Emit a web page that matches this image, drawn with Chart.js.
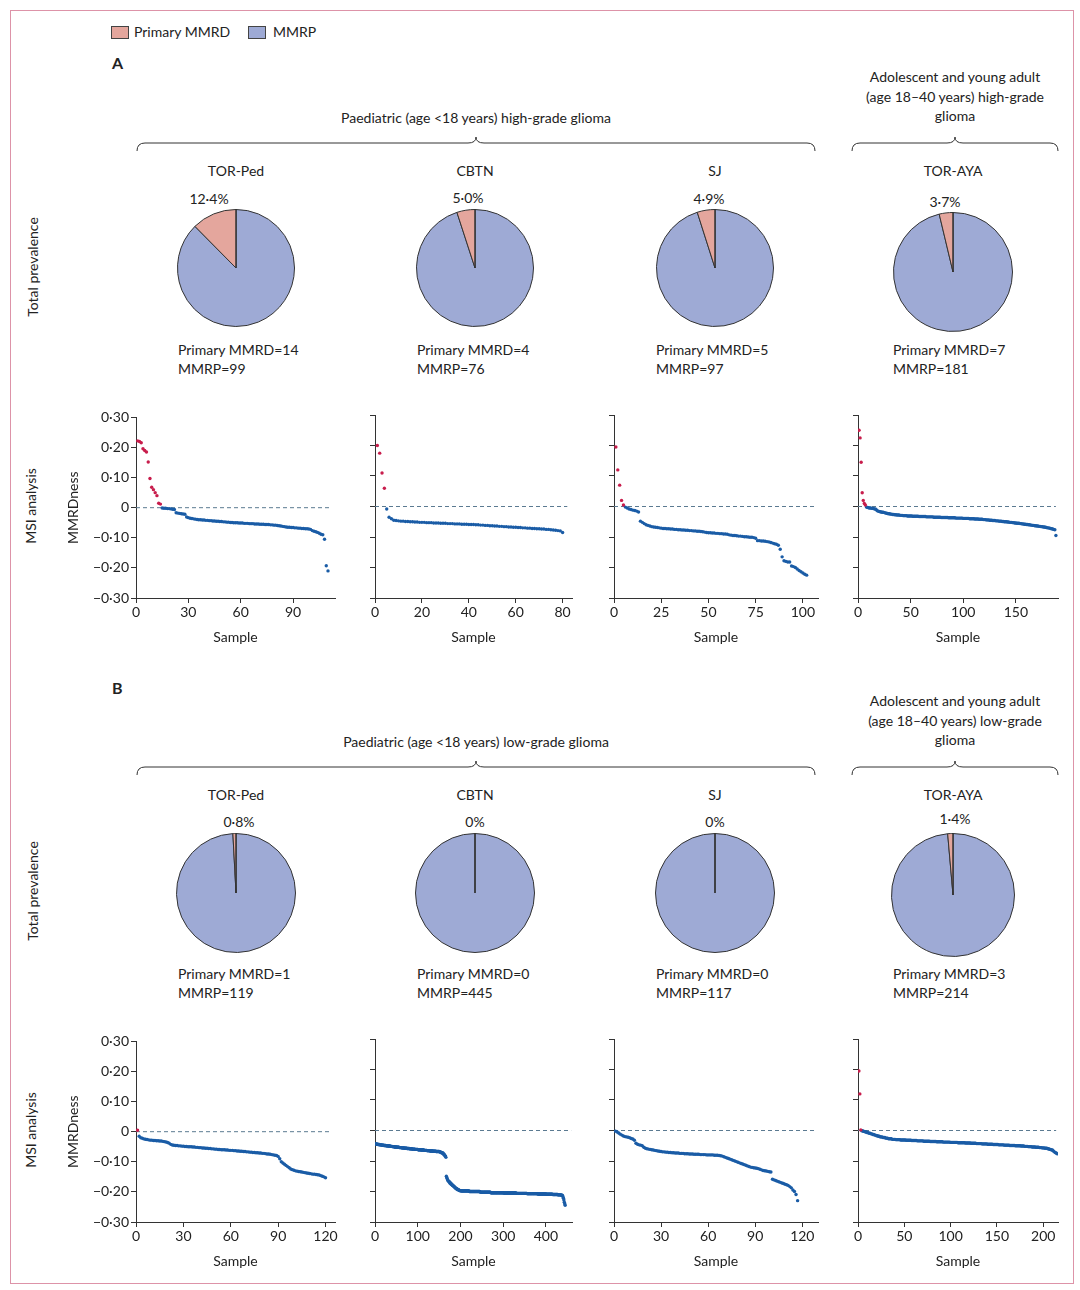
<!DOCTYPE html>
<html><head><meta charset="utf-8">
<script src="https://cdn.jsdelivr.net/npm/chart.js@4"></script>
<style>
body{margin:0;width:1080px;height:1290px;position:relative;background:#fff;font-family:Lato,"Open Sans",sans-serif;color:#222;overflow:hidden}
.t{position:absolute;font-size:14px;white-space:nowrap;line-height:1}
.c{transform:translateX(-50%);text-align:center}
.r{transform:translate(-50%,-50%) rotate(-90deg)}
canvas{position:absolute}
</style></head><body>
<script>
// ---------- DATA ----------
const pieNames = ["TOR-Ped","CBTN","SJ","TOR-AYA"];
const pieMMRD_A = [14,4,5,7];
const pieMMRP_A = [99,76,97,181];
const pieLabel_A = ["12·4%","5·0%","4·9%","3·7%"];
const pieMMRD_B = [1,0,0,3];
const pieMMRP_B = [119,445,117,214];
const pieLabel_B = ["0·8%","0%","0%","1·4%"];
const yTicks = [0.30,0.20,0.10,0,-0.10,-0.20,-0.30];
// MMRDness values in thousandths
const A_TORPed_red = [222,220,216,196,190,185,152,97,68,60,50,40,15,12];
const A_TORPed_blue = [-1,-2,-2,-3,-3,-4,-5,-6,-17,-18,-19,-20,-21,-22,-31,-33,-35,-36,-37,-38,
-39,-40,-40,-41,-41,-42,-42,-43,-43,-44,-44,-45,-45,-46,-46,-47,-47,-48,-48,-49,-49,-50,-50,-50,-51,-51,
-51,-52,-52,-52,-53,-53,-53,-54,-54,-54,-55,-55,-55,-56,-56,-56,-57,-57,-58,-58,
-59,-60,-61,-62,-63,-64,-65,-65,-66,-66,-67,-67,-68,-68,-69,-69,-70,-70,-71,-72,
-76,-78,-80,-82,-85,-88,-90,-105,-193,-210];
const A_CBTN_red = [200,175,110,60];
const A_CBTN_blue = [-8,-35,-40,-45,-46,-47,-48,-48,-49,-49,-50,-50,-51,-51,-52,-52,-52,-53,-53,-53,
-54,-54,-54,-55,-55,-55,-56,-56,-56,-57,-57,-57,-58,-58,-58,-59,-59,-59,-60,-60,
-61,-61,-62,-62,-63,-63,-64,-64,-65,-65,-66,-66,-67,-67,-68,-68,-69,-69,-70,-70,
-71,-71,-72,-72,-73,-73,-74,-74,-75,-75,-76,-77,-78,-79,-80,-85];
const A_SJ_red = [195,120,70,20,5];
const A_SJ_blue = [-2,-5,-8,-10,-12,-13,-15,-18,-48,-52,-56,-60,-62,-64,
-66,-67,-68,-69,-70,-71,-72,-72,-73,-73,-74,
-74,-75,-75,-76,-76,-77,-77,-78,-78,-79,-79,-80,-80,-81,-81,-82,-83,-84,-85,-86,
-86,-87,-87,-88,-88,-89,-89,-90,-90,-91,
-93,-94,-95,-95,-96,-97,-97,-98,-99,-99,-100,-101,-101,-102,-104,
-112,-112,-113,-113,-114,-115,-116,-118,-120,-122,-124,-127,
-140,-165,-178,-180,-182,-182,-195,-197,-200,-205,-210,-214,-218,-222,-225];
const A_AYA_red = [250,225,145,45,20,10,5];
const A_AYA_blue = [-2,-3,-4,-5,-5,-6,-6,-7,-8,-9,-13,-15,-16,-17,-18,-19,-19,-20,-21,-22,
-23,-24,-24,-25,-25,-26,-26,-27,-27,-28,-28,-28,-29,-29,-29,-30,-30,-30,-30,-31,
-31,-31,-31,-31,-32,-32,-32,-32,-32,-32,-33,-33,-33,-33,-33,-33,-33,-34,-34,-34,
-34,-34,-34,-34,-35,-35,-35,-35,-35,-35,-35,-36,-36,-36,-36,-36,-36,-36,-37,-37,
-37,-37,-37,-37,-37,-38,-38,-38,-38,-38,-38,-38,-39,-39,-39,-39,-39,-39,-40,-40,
-40,-40,-40,-41,-41,-41,-41,-42,-42,-42,-42,-43,-43,-43,-44,-44,-44,-45,-45,-45,
-46,-46,-46,-47,-47,-47,-48,-48,-48,-49,-49,-50,-50,-50,-51,-51,-52,-52,-52,-53,
-53,-54,-54,-55,-55,-55,-56,-56,-57,-57,-58,-58,-59,-59,-60,-60,-61,-61,-62,-62,
-63,-63,-64,-64,-65,-65,-66,-66,-67,-67,-68,-69,-70,-70,-71,-72,-73,-74,-75,-76,-95];
const B_TORPed_red = [5];
const B_TORPed_blue = [-15,-20,-22,-24,-25,-26,-27,-28,-28,-29,-29,-30,-30,-31,-31,-32,-33,-34,-36,-38,
-42,-44,-45,-46,-46,-47,-47,-48,-48,-49,-49,-50,-50,-50,-51,-51,-52,-52,-53,-53,
-54,-54,-55,-55,-56,-56,-57,-57,-58,-58,-59,-59,-60,-60,-60,-61,-61,-62,-62,-62,
-63,-63,-64,-64,-65,-65,-66,-66,-67,-67,-68,-68,-69,-69,-70,-70,-71,-71,-72,-72,
-73,-74,-74,-75,-76,-77,-78,-79,-82,-90,-100,-104,-108,-112,-116,-120,-124,-126,-128,-130,
-131,-132,-133,-134,-135,-136,-137,-138,-139,-140,-141,-141,-142,-143,-144,-146,-148,-150,-153];
const B_CBTN_red = [];
// [value, count] runs
const B_CBTN_blue_runs = [[-43,1],[-44,2],[-45,3],[-46,4],[-47,5],[-48,5],[-49,5],[-50,5],[-51,5],[-52,5],[-53,5],[-54,5],
[-55,6],[-56,6],[-57,6],[-58,6],[-59,6],[-60,6],[-61,7],[-62,7],[-63,7],[-64,7],[-65,7],[-66,7],[-67,7],[-68,7],[-69,8],
[-70,3],[-72,3],[-74,3],[-77,2],[-80,2],[-84,2],[-88,1],
[-150,1],[-155,1],[-158,1],[-162,1],[-165,2],[-168,2],[-172,3],[-176,3],[-180,3],[-184,3],[-188,3],[-191,3],[-194,4],[-197,4],
[-198,20],[-200,25],[-202,25],[-204,30],[-205,30],[-206,25],[-207,25],[-208,20],
[-209,15],[-210,12],[-211,8],[-212,3],[-214,1],[-218,1],[-222,1],[-228,1],[-235,1],[-240,1],[-245,1]];
const B_SJ_red = [];
const B_SJ_blue = [-2,-5,-8,-12,-15,-18,-20,-21,-22,-24,-26,-28,-32,-42,-45,-47,-48,-50,-55,-58,
-60,-61,-62,-63,-64,-65,-66,-67,-68,-69,-70,-70,-71,-71,-72,-72,-73,-73,-74,-74,
-74,-75,-75,-75,-76,-76,-76,-77,-77,-77,-78,-78,-78,-78,-79,-79,-79,-79,-80,-80,
-80,-80,-80,-81,-81,-81,-82,-83,-84,-86,-88,-90,-92,-94,-96,-98,-100,-102,-104,-106,
-108,-110,-112,-114,-116,-118,-120,-121,-122,-123,-124,-125,-127,-129,-131,-132,-133,-134,-135,-136,
-160,-162,-164,-166,-168,-170,-172,-174,-176,-178,-180,-184,-188,-195,-200,-210,-230];
const B_AYA_red = [195,120,2];
const B_AYA_blue_runs = [[-1,2],[-3,2],[-5,2],[-7,2],[-9,2],[-11,2],[-13,2],[-15,2],[-17,2],[-19,2],
[-21,3],[-23,3],[-25,3],[-27,4],[-29,4],[-30,5],
[-31,6],[-32,6],[-33,6],[-34,7],[-35,7],[-36,7],[-37,7],[-38,8],[-39,8],[-40,8],
[-41,6],[-42,6],[-43,6],[-44,6],[-45,6],[-46,6],[-47,6],[-48,6],[-49,6],[-50,6],
[-51,4],[-52,4],[-53,4],[-54,4],[-55,4],[-56,3],[-57,3],[-58,3],[-60,2],[-62,2],[-64,2],[-67,1],[-70,1],[-72,1],[-74,1],[-76,1]];
const xMax = [114,84,108,190,126,461,130,216];
const xStep = [30,20,25,50,30,100,30,50];
// ---------- LAYOUT ----------
const expand = r => r.flatMap(([v,c]) => Array(c).fill(v));
const panels = [
 [A_TORPed_red,A_TORPed_blue],[A_CBTN_red,A_CBTN_blue],[A_SJ_red,A_SJ_blue],[A_AYA_red,A_AYA_blue],
 [B_TORPed_red,B_TORPed_blue],[B_CBTN_red,expand(B_CBTN_blue_runs)],[B_SJ_red,B_SJ_blue],[B_AYA_red,expand(B_AYA_blue_runs)]];
const colMMRD='#e4a69d', colMMRP='#9eaad5';
const body=document.body;
function txt(s,x,y,cls,extra){const d=document.createElement('div');d.className='t '+(cls||'');d.style.left=x+'px';d.style.top=y+'px';d.innerHTML=s;if(extra)Object.assign(d.style,extra);body.appendChild(d);return d;}
function cv(x,y,w,h){const c=document.createElement('canvas');c.style.left=x+'px';c.style.top=y+'px';c.style.width=w+'px';c.style.height=h+'px';c.width=w;c.height=h;body.appendChild(c);return c;}
Chart.defaults.font.family='Lato, "Open Sans", sans-serif';
Chart.defaults.color='#222';
Chart.defaults.animation=false;

const svgNS='http://www.w3.org/2000/svg';
const svg=document.createElementNS(svgNS,'svg');svg.setAttribute('width',1080);svg.setAttribute('height',1290);svg.style.position='absolute';svg.style.left=0;svg.style.top=0;
function brace(x1,x2,xm,y){const p=document.createElementNS(svgNS,'path');
 p.setAttribute('d',`M${x1},${y+8} Q${x1},${y} ${x1+8},${y} L${xm-8},${y} Q${xm},${y} ${xm},${y-6} Q${xm},${y} ${xm+8},${y} L${x2-8},${y} Q${x2},${y} ${x2},${y+8}`);
 p.setAttribute('fill','none');p.setAttribute('stroke','#333');p.setAttribute('stroke-width','1');svg.appendChild(p);}
const rect=document.createElementNS(svgNS,'rect');rect.setAttribute('x',10.5);rect.setAttribute('y',10.5);rect.setAttribute('width',1063);rect.setAttribute('height',1273);rect.setAttribute('fill','none');rect.setAttribute('stroke','#dd93a8');svg.appendChild(rect);
brace(137,815,476,143);brace(852,1058,955,143);brace(137,815,476,767);brace(852,1058,955,767);
body.appendChild(svg);

const sw=(x,c)=>{const d=document.createElement('div');Object.assign(d.style,{position:'absolute',left:x+'px',top:'26px',width:'16px',height:'11px',background:c,border:'1px solid #444'});body.appendChild(d);};
sw(111,colMMRD);txt('Primary MMRD',134,25);sw(248,colMMRP);txt('MMRP',273,25);
txt('<b>A</b>',112,55,'',{fontSize:'16px'});txt('<b>B</b>',112,680,'',{fontSize:'16px'});

const pieCx=[236,475,715,953];
function row(off,grade,mm,mp,lab,pieY,r,labY){
 txt(`Paediatric (age &lt;18 years) ${grade}-grade glioma`,476,111+off,'c');
 txt('Adolescent and young adult',955,70+off,'c');txt('(age 18–40 years) '+grade+'-grade',955,90+off,'c');txt('glioma',955,109+off,'c');
 txt('Total prevalence',33,267+off,'r');txt('MSI analysis',31,506+off,'r');
 for(let i=0;i<4;i++){
  txt(pieNames[i],pieCx[i],164+off,'c');
  txt(lab[i],pieCx[i]+(off?[3,0,0,2][i]:[-27,-7,-6,-8][i]),labY[i]+off,'c');
  const lx=[178,417,656,893][i];
  txt('Primary MMRD='+mm[i],lx,343+off);txt('MMRP='+mp[i],lx,362+off);
  const R=r[i],cy=pieY[i]+off,c=cv(pieCx[i]-R-3,cy-R-3,2*R+6,2*R+6);
  new Chart(c,{type:'pie',data:{labels:['MMRP','Primary MMRD'],datasets:[{data:[mp[i],mm[i]],backgroundColor:[colMMRP,colMMRD],borderColor:'#333',borderWidth:1}]},
   options:{responsive:false,layout:{padding:2},plugins:{legend:{display:false},tooltip:{enabled:false}}},
   plugins:[{id:'rad',afterDraw(ch){const a=ch.getDatasetMeta(0).data[0];const g=ch.ctx;g.save();g.strokeStyle='#333';g.lineWidth=1;g.beginPath();g.moveTo(a.x,a.y);g.lineTo(a.x,a.y-a.outerRadius);g.stroke();g.restore();}}]});
 }
}
row(0,'high',pieMMRD_A,pieMMRP_A,pieLabel_A,[268,268,268,272],[58,58,58,59],[192,191,192,195]);
row(624,'low',pieMMRD_B,pieMMRP_B,pieLabel_B,[269,269,269,271],[59,59,59,61],[191,191,191,188]);

const plotX=[[136,335],[375,572],[614,818],[858,1058]];
const fmt=v=>{if(Math.abs(v)<1e-9)return '0';return (v<0?'−':'')+Math.abs(v).toFixed(2).replace('.','·');};
panels.forEach((p,k)=>{
 const col=k%4, top=k<4?415:1039, bot=k<4?598:1222;
 const [x1,x2]=plotX[col], L=75, T=8, B=52;
 const c=cv(x1-L,top-T,x2-x1+L+4,bot-top+T+B);
 const red=p[0].map((v,i)=>({x:i+1,y:v/1000}));
 const blue=p[1].map((v,i)=>({x:p[0].length+i+1,y:v/1000}));
 new Chart(c,{type:'scatter',data:{datasets:[
  {data:[{x:0,y:0},{x:xMax[k]-2,y:0}],type:'line',borderColor:'#5b7a91',borderWidth:1,borderDash:[4,3],pointRadius:0,order:3},
  {data:blue,backgroundColor:'#1a5ca6',borderWidth:0,pointRadius:1.7,order:2},
  {data:red,backgroundColor:'#c81d4c',borderWidth:0,pointRadius:1.7,order:1}]},
  options:{responsive:false,layout:{padding:{top:T,right:4,left:0,bottom:0}},plugins:{legend:{display:false},tooltip:{enabled:false}},
  scales:{
   x:{type:'linear',min:0,max:xMax[k],afterBuildTicks:s=>{const t=[];for(let v=0;v<=xMax[k];v+=xStep[k])t.push({value:v});s.ticks=t;},afterFit:s=>{s.height=B;},
      ticks:{font:{size:14},padding:1,maxRotation:0},grid:{drawOnChartArea:false,tickLength:5,color:'#333'},border:{color:'#333'},
      title:{display:true,text:'Sample',font:{size:14},padding:{top:2}}},
   y:{min:-0.3,max:0.3,afterBuildTicks:s=>{s.ticks=yTicks.map(v=>({value:v}));},afterFit:s=>{s.width=L;},
      ticks:{display:col===0,callback:v=>fmt(v),font:{size:14},padding:2},grid:{drawOnChartArea:false,tickLength:5,color:'#333'},border:{color:'#333'},
      title:{display:col===0,text:'MMRDness',font:{size:14},padding:{bottom:2}}}}}});
});
</script>
</body></html>
